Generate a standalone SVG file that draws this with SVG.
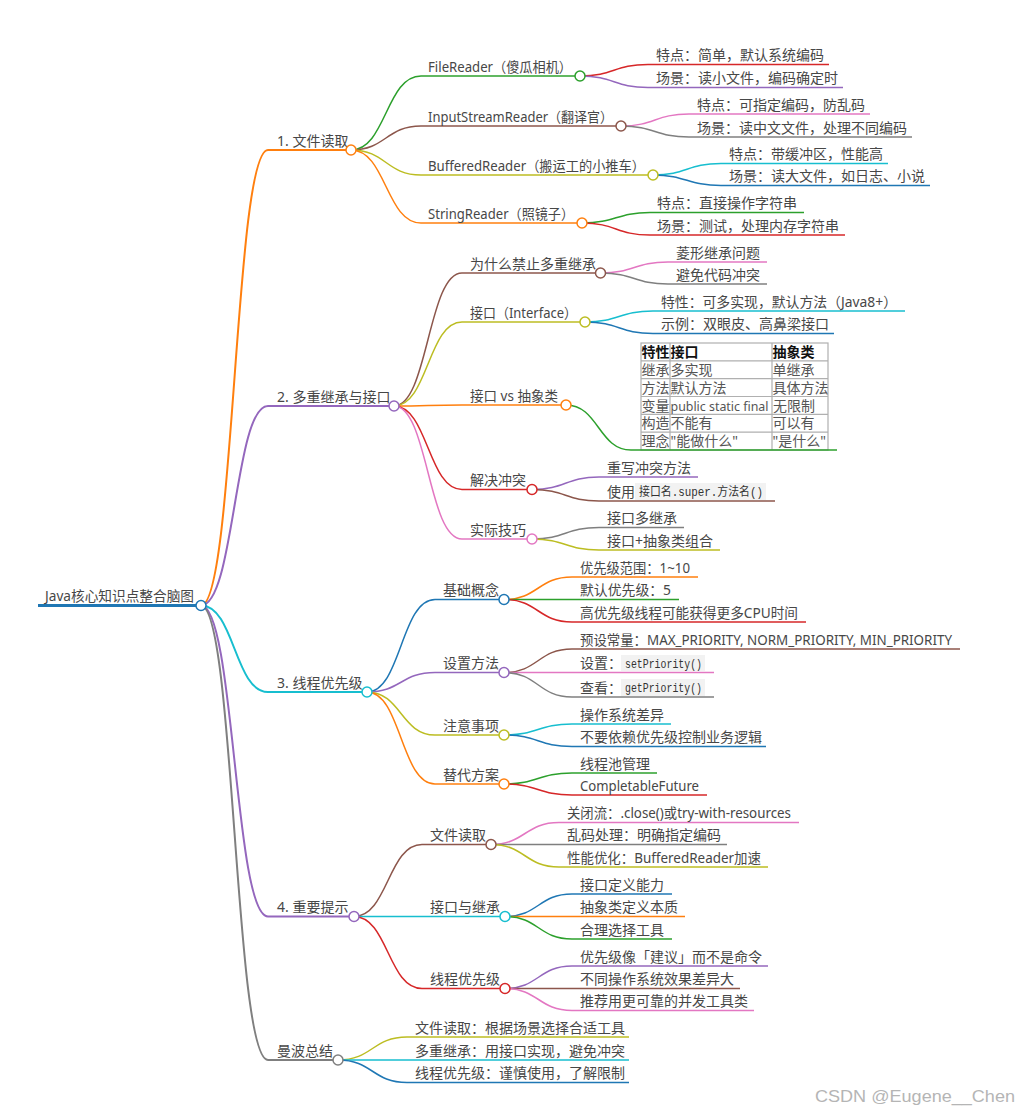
<svg xmlns="http://www.w3.org/2000/svg" width="1019" height="1114" viewBox="0 0 1019 1114">
<style>
.t{font-family:"Noto Sans","Noto Sans CJK SC",sans-serif;font-size:14px;fill:#474747}
.m{font-family:"Liberation Mono","Noto Sans CJK SC",monospace;font-size:12px;fill:#333}
.hb{font-weight:bold;fill:#111}
.tb{fill:#555}
.cb{fill:#f2f2f2}
.c{fill:#fff;stroke-width:1.5}
.e{fill:none;stroke-width:1.5}
.e2{fill:none;stroke-width:2}
.l1{stroke-width:2}
.l2{stroke-width:1.5}
.l3{stroke-width:1.5}
.sB{stroke:#1f77b4}.sO{stroke:#ff7f0e}.sG{stroke:#2ca02c}.sR{stroke:#d62728}.sP{stroke:#9467bd}
.sBr{stroke:#8c564b}.sPk{stroke:#e377c2}.sGy{stroke:#7f7f7f}.sOl{stroke:#bcbd22}.sC{stroke:#17becf}
.grid{fill:none;stroke:#b0b0b0;stroke-width:1.2}
.wm{font-family:"Liberation Sans",sans-serif;font-size:17px;fill:#b5b5b5}
</style>
<g id="connectors">
<path class="e2 sO" d="M201 605.5C234.5 605.5 234.5 150 268 150"/>
<path class="e2 sP" d="M201 605.5C234.5 605.5 234.5 406 268 406"/>
<path class="e2 sC" d="M201 605.5C234.5 605.5 234.5 692 268 692"/>
<path class="e2 sP" d="M201 605.5C234.5 605.5 234.5 916.5 268 916.5"/>
<path class="e2 sGy" d="M201 605.5C234.5 605.5 234.5 1060 268 1060"/>
<path class="e sG" d="M351 150C386 150 386 76 421 76"/>
<path class="e sBr" d="M351 150C386 150 386 126 421 126"/>
<path class="e sOl" d="M351 150C386 150 386 175 421 175"/>
<path class="e sO" d="M351 150C386 150 386 223 421 223"/>
<path class="e sBr" d="M394 406C428 406 428 273 462 273"/>
<path class="e sOl" d="M394 406C428 406 428 322 462 322"/>
<path class="e sO" d="M394 406C428 406 428 405 462 405"/>
<path class="e sR" d="M394 406C428 406 428 489.5 462 489.5"/>
<path class="e sPk" d="M394 406C428 406 428 539 462 539"/>
<path class="e sB" d="M367 692C401 692 401 599.5 435 599.5"/>
<path class="e sP" d="M367 692C401 692 401 672.5 435 672.5"/>
<path class="e sOl" d="M367 692C401 692 401 735 435 735"/>
<path class="e sO" d="M367 692C401 692 401 784 435 784"/>
<path class="e sBr" d="M354 916.5C388 916.5 388 844.5 422 844.5"/>
<path class="e sC" d="M354 916.5L422 916.5"/>
<path class="e sR" d="M354 916.5C388 916.5 388 988.5 422 988.5"/>
<path class="e sOl" d="M338 1060C372.5 1060 372.5 1037 407 1037"/>
<path class="e sC" d="M338 1060L407 1060"/>
<path class="e sB" d="M338 1060C372.5 1060 372.5 1082.5 407 1082.5"/>
<path class="e sR" d="M580 76C614 76 614 64.5 648 64.5"/>
<path class="e sP" d="M580 76C614 76 614 87.5 648 87.5"/>
<path class="e sPk" d="M621 126C655 126 655 114 689 114"/>
<path class="e sGy" d="M621 126C655 126 655 137 689 137"/>
<path class="e sC" d="M653 175C687 175 687 163.5 721 163.5"/>
<path class="e sB" d="M653 175C687 175 687 185.5 721 185.5"/>
<path class="e sG" d="M582 223C616 223 616 212.5 650 212.5"/>
<path class="e sR" d="M582 223C616 223 616 235 650 235"/>
<path class="e sPk" d="M600.5 273C634.25 273 634.25 262 668 262"/>
<path class="e sGy" d="M600.5 273C634.25 273 634.25 284 668 284"/>
<path class="e sC" d="M585 322C619 322 619 311 653 311"/>
<path class="e sB" d="M585 322C619 322 619 333.5 653 333.5"/>
<path class="e sG" d="M566 405C598.5 405 598.5 450 631 450"/>
<path class="e sP" d="M532 489.5C565.5 489.5 565.5 477 599 477"/>
<path class="e sBr" d="M532 489.5C565.5 489.5 565.5 501 599 501"/>
<path class="e sGy" d="M532 539C565.5 539 565.5 527.5 599 527.5"/>
<path class="e sOl" d="M532 539C565.5 539 565.5 550 599 550"/>
<path class="e sO" d="M504 599.5C538 599.5 538 577 572 577"/>
<path class="e sG" d="M504 599.5L572 599.5"/>
<path class="e sR" d="M504 599.5C538 599.5 538 622 572 622"/>
<path class="e sBr" d="M504 672.5C538 672.5 538 649 572 649"/>
<path class="e sPk" d="M504 672.5L572 672.5"/>
<path class="e sGy" d="M504 672.5C538 672.5 538 697 572 697"/>
<path class="e sC" d="M504 735C538 735 538 724 572 724"/>
<path class="e sB" d="M504 735C538 735 538 746.5 572 746.5"/>
<path class="e sG" d="M504 784C538 784 538 773 572 773"/>
<path class="e sR" d="M504 784C538 784 538 795 572 795"/>
<path class="e sPk" d="M491 844.5C525 844.5 525 822.5 559 822.5"/>
<path class="e sGy" d="M491 844.5L559 844.5"/>
<path class="e sOl" d="M491 844.5C525 844.5 525 867 559 867"/>
<path class="e sB" d="M505 916.5C538.5 916.5 538.5 894 572 894"/>
<path class="e sO" d="M505 916.5L572 916.5"/>
<path class="e sG" d="M505 916.5C538.5 916.5 538.5 939 572 939"/>
<path class="e sP" d="M505 988.5C538.5 988.5 538.5 966 572 966"/>
<path class="e sBr" d="M505 988.5L572 988.5"/>
<path class="e sPk" d="M505 988.5C538.5 988.5 538.5 1010.5 572 1010.5"/>
</g>

<g id="n-root">
<line x1="38" y1="605.5" x2="201" y2="605.5" class="sB" stroke-width="3"/>
<text class="t" x="45" y="601" textLength="149" lengthAdjust="spacingAndGlyphs">Java核心知识点整合脑图</text>
<circle class="c sB" cx="201" cy="605.5" r="5"/>
</g>

<g id="n-1">
<line x1="268" y1="150" x2="351" y2="150" class="l1 sO"/>
<text class="t" x="277" y="145.5">1. 文件读取</text>
<circle class="c sO" cx="351" cy="150" r="5"/>
</g>
<g id="n-1-1">
<line x1="421" y1="76" x2="580" y2="76" class="l2 sG"/>
<text class="t" x="428" y="71.5" textLength="144" lengthAdjust="spacingAndGlyphs">FileReader（傻瓜相机）</text>
<circle class="c sG" cx="580" cy="76" r="5"/>
</g>
<g id="n-1-1-1"><line x1="648" y1="64.5" x2="829" y2="64.5" class="l3 sR"/><text class="t" x="656" y="60">特点：简单，默认系统编码</text></g>
<g id="n-1-1-2"><line x1="648" y1="87.5" x2="843" y2="87.5" class="l3 sP"/><text class="t" x="656" y="83">场景：读小文件，编码确定时</text></g>
<g id="n-1-2">
<line x1="421" y1="126" x2="621" y2="126" class="l2 sBr"/>
<text class="t" x="428" y="121.5" textLength="185" lengthAdjust="spacingAndGlyphs">InputStreamReader（翻译官）</text>
<circle class="c sBr" cx="621" cy="126" r="5"/>
</g>
<g id="n-1-2-1"><line x1="689" y1="114" x2="870" y2="114" class="l3 sPk"/><text class="t" x="697" y="109.5">特点：可指定编码，防乱码</text></g>
<g id="n-1-2-2"><line x1="689" y1="137" x2="912" y2="137" class="l3 sGy"/><text class="t" x="697" y="132.5">场景：读中文文件，处理不同编码</text></g>
<g id="n-1-3">
<line x1="421" y1="175" x2="653" y2="175" class="l2 sOl"/>
<text class="t" x="428" y="170.5" textLength="217" lengthAdjust="spacingAndGlyphs">BufferedReader（搬运工的小推车）</text>
<circle class="c sOl" cx="653" cy="175" r="5"/>
</g>
<g id="n-1-3-1"><line x1="721" y1="163.5" x2="888" y2="163.5" class="l3 sC"/><text class="t" x="729" y="159">特点：带缓冲区，性能高</text></g>
<g id="n-1-3-2"><line x1="721" y1="185.5" x2="930" y2="185.5" class="l3 sB"/><text class="t" x="729" y="181">场景：读大文件，如日志、小说</text></g>
<g id="n-1-4">
<line x1="421" y1="223" x2="582" y2="223" class="l2 sO"/>
<text class="t" x="428" y="218.5" textLength="146" lengthAdjust="spacingAndGlyphs">StringReader（照镜子）</text>
<circle class="c sO" cx="582" cy="223" r="5"/>
</g>
<g id="n-1-4-1"><line x1="650" y1="212.5" x2="804" y2="212.5" class="l3 sG"/><text class="t" x="657" y="208">特点：直接操作字符串</text></g>
<g id="n-1-4-2"><line x1="650" y1="235" x2="845" y2="235" class="l3 sR"/><text class="t" x="657" y="230.5">场景：测试，处理内存字符串</text></g>

<g id="n-2">
<line x1="268" y1="406" x2="394" y2="406" class="l1 sP"/>
<text class="t" x="277" y="401.5">2. 多重继承与接口</text>
<circle class="c sP" cx="394" cy="406" r="5"/>
</g>
<g id="n-2-1">
<line x1="462" y1="273" x2="600.5" y2="273" class="l2 sBr"/>
<text class="t" x="470" y="268.5">为什么禁止多重继承</text>
<circle class="c sBr" cx="600.5" cy="273" r="5"/>
</g>
<g id="n-2-1-1"><line x1="668" y1="262" x2="767" y2="262" class="l3 sPk"/><text class="t" x="676" y="257.5">菱形继承问题</text></g>
<g id="n-2-1-2"><line x1="668" y1="284" x2="767" y2="284" class="l3 sGy"/><text class="t" x="676" y="279.5">避免代码冲突</text></g>
<g id="n-2-2">
<line x1="462" y1="322" x2="585" y2="322" class="l2 sOl"/>
<text class="t" x="470" y="317.5" textLength="107" lengthAdjust="spacingAndGlyphs">接口（Interface）</text>
<circle class="c sOl" cx="585" cy="322" r="5"/>
</g>
<g id="n-2-2-1"><line x1="653" y1="311" x2="905" y2="311" class="l3 sC"/><text class="t" x="661" y="306.5" textLength="236" lengthAdjust="spacingAndGlyphs">特性：可多实现，默认方法（Java8+）</text></g>
<g id="n-2-2-2"><line x1="653" y1="333.5" x2="834" y2="333.5" class="l3 sB"/><text class="t" x="661" y="329">示例：双眼皮、高鼻梁接口</text></g>
<g id="n-2-3">
<line x1="462" y1="405" x2="566" y2="405" class="l2 sO"/>
<text class="t" x="470" y="400.5" textLength="88" lengthAdjust="spacingAndGlyphs">接口 vs 抽象类</text>
<circle class="c sO" cx="566" cy="405" r="5"/>
</g>
<g id="n-2-3-1">
<rect class="grid" x="641" y="343" width="187" height="107"/>
<path class="grid" d="M670 343V450M772 343V450M641 360.8H828M641 378.7H828M641 396.5H828M641 414.3H828M641 432.2H828"/>
<text class="t hb" x="641.5" y="357">特性</text>
<text class="t hb" x="670.5" y="357">接口</text>
<text class="t hb" x="772.5" y="357">抽象类</text>
<text class="t tb" x="641.5" y="375">继承</text>
<text class="t tb" x="670.5" y="375">多实现</text>
<text class="t tb" x="772.5" y="375">单继承</text>
<text class="t tb" x="641.5" y="392.8">方法</text>
<text class="t tb" x="670.5" y="392.8">默认方法</text>
<text class="t tb" x="772.5" y="392.8">具体方法</text>
<text class="t tb" x="641.5" y="410.6">变量</text>
<text class="t tb" x="670.5" y="410.6" style="font-size:12.3px" textLength="98" lengthAdjust="spacingAndGlyphs">public static final</text>
<text class="t tb" x="773" y="410.6">无限制</text>
<text class="t tb" x="641.5" y="428.4">构造</text>
<text class="t tb" x="670.5" y="428.4">不能有</text>
<text class="t tb" x="772.5" y="428.4">可以有</text>
<text class="t tb" x="641.5" y="446.3">理念</text>
<text class="t tb" x="670.5" y="446.3">"能做什么"</text>
<text class="t tb" x="772.5" y="446.3">"是什么"</text>
<line x1="631" y1="450" x2="837" y2="450" class="l3 sG"/>
</g>
<g id="n-2-4">
<line x1="462" y1="489.5" x2="532" y2="489.5" class="l2 sR"/>
<text class="t" x="470" y="485">解决冲突</text>
<circle class="c sR" cx="532" cy="489.5" r="5"/>
</g>
<g id="n-2-4-1"><line x1="599" y1="477" x2="698" y2="477" class="l3 sP"/><text class="t" x="607" y="472.5">重写冲突方法</text></g>
<g id="n-2-4-2">
<rect class="cb" x="635" y="483" width="131" height="17"/>
<line x1="599" y1="501" x2="775" y2="501" class="l3 sBr"/>
<text class="t" x="607" y="496.5">使用</text>
<text class="m" x="639" y="496" textLength="124" lengthAdjust="spacingAndGlyphs">接口名.super.方法名()</text>
</g>
<g id="n-2-5">
<line x1="462" y1="539" x2="532" y2="539" class="l2 sPk"/>
<text class="t" x="470" y="534.5">实际技巧</text>
<circle class="c sPk" cx="532" cy="539" r="5"/>
</g>
<g id="n-2-5-1"><line x1="599" y1="527.5" x2="684" y2="527.5" class="l3 sGy"/><text class="t" x="607" y="523">接口多继承</text></g>
<g id="n-2-5-2"><line x1="599" y1="550" x2="720" y2="550" class="l3 sOl"/><text class="t" x="607" y="545.5">接口+抽象类组合</text></g>

<g id="n-3">
<line x1="268" y1="692" x2="367" y2="692" class="l1 sC"/>
<text class="t" x="277" y="687.5">3. 线程优先级</text>
<circle class="c sC" cx="367" cy="692" r="5"/>
</g>
<g id="n-3-1">
<line x1="435" y1="599.5" x2="504" y2="599.5" class="l2 sB"/>
<text class="t" x="443" y="595">基础概念</text>
<circle class="c sB" cx="504" cy="599.5" r="5"/>
</g>
<g id="n-3-1-1"><line x1="572" y1="577" x2="698" y2="577" class="l3 sO"/><text class="t" x="580" y="572.5" textLength="110" lengthAdjust="spacingAndGlyphs">优先级范围：1~10</text></g>
<g id="n-3-1-2"><line x1="572" y1="599.5" x2="679" y2="599.5" class="l3 sG"/><text class="t" x="580" y="595" textLength="91" lengthAdjust="spacingAndGlyphs">默认优先级：5</text></g>
<g id="n-3-1-3"><line x1="572" y1="622" x2="806" y2="622" class="l3 sR"/><text class="t" x="580" y="617.5" textLength="218" lengthAdjust="spacingAndGlyphs">高优先级线程可能获得更多CPU时间</text></g>
<g id="n-3-2">
<line x1="435" y1="672.5" x2="504" y2="672.5" class="l2 sP"/>
<text class="t" x="443" y="668">设置方法</text>
<circle class="c sP" cx="504" cy="672.5" r="5"/>
</g>
<g id="n-3-2-1"><line x1="572" y1="649" x2="960" y2="649" class="l3 sBr"/><text class="t" x="580" y="644.5" textLength="372" lengthAdjust="spacingAndGlyphs">预设常量：MAX_PRIORITY, NORM_PRIORITY, MIN_PRIORITY</text></g>
<g id="n-3-2-2">
<rect class="cb" x="621" y="655" width="84" height="16"/>
<line x1="572" y1="672.5" x2="714" y2="672.5" class="l3 sPk"/>
<text class="t" x="580" y="668">设置：</text>
<text class="m" x="625" y="667.5" textLength="77" lengthAdjust="spacingAndGlyphs">setPriority()</text>
</g>
<g id="n-3-2-3">
<rect class="cb" x="621" y="679" width="84" height="17"/>
<line x1="572" y1="697" x2="714" y2="697" class="l3 sGy"/>
<text class="t" x="580" y="692.5">查看：</text>
<text class="m" x="625" y="692" textLength="77" lengthAdjust="spacingAndGlyphs">getPriority()</text>
</g>
<g id="n-3-3">
<line x1="435" y1="735" x2="504" y2="735" class="l2 sOl"/>
<text class="t" x="443" y="730.5">注意事项</text>
<circle class="c sOl" cx="504" cy="735" r="5"/>
</g>
<g id="n-3-3-1"><line x1="572" y1="724" x2="671" y2="724" class="l3 sC"/><text class="t" x="580" y="719.5">操作系统差异</text></g>
<g id="n-3-3-2"><line x1="572" y1="746.5" x2="766" y2="746.5" class="l3 sB"/><text class="t" x="580" y="742">不要依赖优先级控制业务逻辑</text></g>
<g id="n-3-4">
<line x1="435" y1="784" x2="504" y2="784" class="l2 sO"/>
<text class="t" x="443" y="779.5">替代方案</text>
<circle class="c sO" cx="504" cy="784" r="5"/>
</g>
<g id="n-3-4-1"><line x1="572" y1="773" x2="657" y2="773" class="l3 sG"/><text class="t" x="580" y="768.5">线程池管理</text></g>
<g id="n-3-4-2"><line x1="572" y1="795" x2="707" y2="795" class="l3 sR"/><text class="t" x="580" y="790.5" textLength="119" lengthAdjust="spacingAndGlyphs">CompletableFuture</text></g>

<g id="n-4">
<line x1="268" y1="916.5" x2="354" y2="916.5" class="l1 sP"/>
<text class="t" x="277" y="912">4. 重要提示</text>
<circle class="c sP" cx="354" cy="916.5" r="5"/>
</g>
<g id="n-4-1">
<line x1="422" y1="844.5" x2="491" y2="844.5" class="l2 sBr"/>
<text class="t" x="430" y="840">文件读取</text>
<circle class="c sBr" cx="491" cy="844.5" r="5"/>
</g>
<g id="n-4-1-1"><line x1="559" y1="822.5" x2="799" y2="822.5" class="l3 sPk"/><text class="t" x="567" y="818" textLength="224" lengthAdjust="spacingAndGlyphs">关闭流：.close()或try-with-resources</text></g>
<g id="n-4-1-2"><line x1="559" y1="844.5" x2="727" y2="844.5" class="l3 sGy"/><text class="t" x="567" y="840">乱码处理：明确指定编码</text></g>
<g id="n-4-1-3"><line x1="559" y1="867" x2="768" y2="867" class="l3 sOl"/><text class="t" x="567" y="862.5" textLength="194" lengthAdjust="spacingAndGlyphs">性能优化：BufferedReader加速</text></g>
<g id="n-4-2">
<line x1="422" y1="916.5" x2="505" y2="916.5" class="l2 sC"/>
<text class="t" x="430" y="912">接口与继承</text>
<circle class="c sC" cx="505" cy="916.5" r="5"/>
</g>
<g id="n-4-2-1"><line x1="572" y1="894" x2="672" y2="894" class="l3 sB"/><text class="t" x="580" y="889.5">接口定义能力</text></g>
<g id="n-4-2-2"><line x1="572" y1="916.5" x2="685" y2="916.5" class="l3 sO"/><text class="t" x="580" y="912">抽象类定义本质</text></g>
<g id="n-4-2-3"><line x1="572" y1="939" x2="672" y2="939" class="l3 sG"/><text class="t" x="580" y="934.5">合理选择工具</text></g>
<g id="n-4-3">
<line x1="422" y1="988.5" x2="505" y2="988.5" class="l2 sR"/>
<text class="t" x="430" y="984">线程优先级</text>
<circle class="c sR" cx="505" cy="988.5" r="5"/>
</g>
<g id="n-4-3-1"><line x1="572" y1="966" x2="768" y2="966" class="l3 sP"/><text class="t" x="580" y="961.5">优先级像「建议」而不是命令</text></g>
<g id="n-4-3-2"><line x1="572" y1="988.5" x2="740" y2="988.5" class="l3 sBr"/><text class="t" x="580" y="984">不同操作系统效果差异大</text></g>
<g id="n-4-3-3"><line x1="572" y1="1010.5" x2="754" y2="1010.5" class="l3 sPk"/><text class="t" x="580" y="1006">推荐用更可靠的并发工具类</text></g>

<g id="n-5">
<line x1="268" y1="1060" x2="338" y2="1060" class="l1 sGy"/>
<text class="t" x="277" y="1055.5">曼波总结</text>
<circle class="c sGy" cx="338" cy="1060" r="5"/>
</g>
<g id="n-5-1"><line x1="407" y1="1037" x2="629" y2="1037" class="l2 sOl"/><text class="t" x="415" y="1032.5">文件读取：根据场景选择合适工具</text></g>
<g id="n-5-2"><line x1="407" y1="1060" x2="629" y2="1060" class="l2 sC"/><text class="t" x="415" y="1055.5">多重继承：用接口实现，避免冲突</text></g>
<g id="n-5-3"><line x1="407" y1="1082.5" x2="629" y2="1082.5" class="l2 sB"/><text class="t" x="415" y="1078">线程优先级：谨慎使用，了解限制</text></g>

<text class="wm" x="815" y="1102" textLength="200" lengthAdjust="spacingAndGlyphs">CSDN @Eugene__Chen</text>
</svg>
